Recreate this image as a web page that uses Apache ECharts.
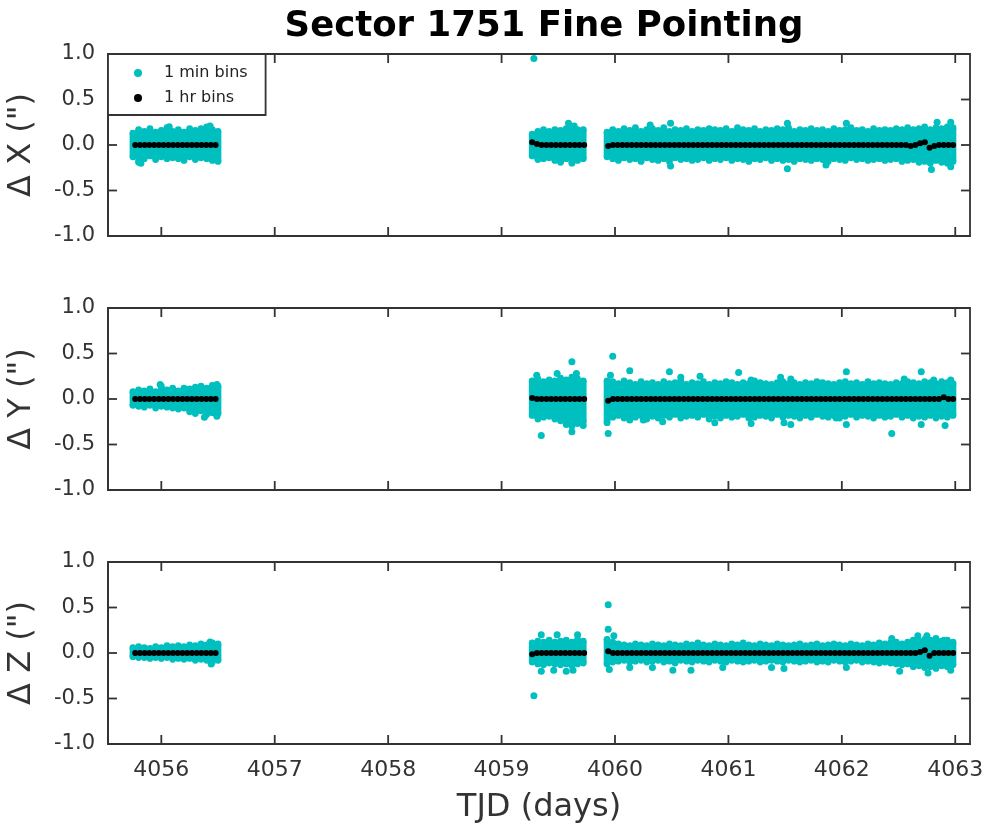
<!DOCTYPE html>
<html>
<head>
<meta charset="utf-8">
<script src="https://cdn.jsdelivr.net/npm/echarts@6/dist/echarts.min.js"></script>
<style>
html,body{margin:0;padding:0;background:#fff}
#main{width:985px;height:827px}
</style>
</head>
<body>
<div id="main"></div>
<script>
'use strict'
// tick labels
var xTicks = [4056, 4057, 4058, 4059, 4060, 4061, 4062, 4063];
var yTicks = [-1, -0.5, 0, 0.5, 1];
var panelNames = ['\u0394 X (")', '\u0394 Y (")', '\u0394 Z (")'];

// 1 min bins: dense cloud, read as upper/lower edge every 0.05 d per segment
var bandStep = 0.05;
var bandStart = [4055.75, 4059.27, 4059.93];

var dxHiA = [0.13,0.17,0.15,0.18,0.14,0.16,0.19,0.15,0.17,0.14,0.18,0.16,0.18,0.2,0.17,0.15];
var dxLoA = [-0.13,-0.19,-0.15,-0.12,-0.16,-0.13,-0.15,-0.14,-0.15,-0.17,-0.13,-0.16,-0.14,-0.15,-0.17,-0.18];
var dxHiB = [0.12,0.15,0.17,0.15,0.17,0.16,0.18,0.19,0.17,0.17];
var dxLoB = [-0.12,-0.16,-0.15,-0.14,-0.17,-0.19,-0.15,-0.2,-0.17,-0.15];
var dxHiC = [0.14,
    0.17,0.15,0.18,0.16,0.19,0.15,0.17,0.18,0.16,
    0.19,0.15,0.17,0.16,0.18,0.15,0.17,0.16,0.18,0.17,
    0.16,0.18,0.15,0.19,0.17,0.16,0.18,0.15,0.17,0.16,
    0.18,0.17,0.19,0.15,0.17,0.16,0.18,0.16,0.17,0.15,
    0.18,0.16,0.17,0.19,0.16,0.17,0.15,0.18,0.16,0.17,
    0.16,0.18,0.17,0.19,0.17,0.18,0.2,0.17,0.19,0.18,
    0.2,0.19];
var dxLoC = [-0.13,
    -0.15,-0.17,-0.14,-0.16,-0.15,-0.18,-0.14,-0.16,-0.17,
    -0.15,-0.18,-0.14,-0.16,-0.15,-0.17,-0.16,-0.14,-0.17,-0.15,
    -0.16,-0.14,-0.17,-0.15,-0.16,-0.18,-0.15,-0.16,-0.14,-0.17,
    -0.15,-0.17,-0.16,-0.18,-0.15,-0.16,-0.17,-0.15,-0.16,-0.18,
    -0.15,-0.16,-0.17,-0.14,-0.16,-0.15,-0.17,-0.16,-0.15,-0.17,
    -0.16,-0.15,-0.18,-0.17,-0.16,-0.19,-0.18,-0.2,-0.17,-0.19,
    -0.2,-0.18];

var dyHiA = [0.08,0.1,0.09,0.11,0.08,0.14,0.1,0.12,0.09,0.12,0.11,0.13,0.14,0.12,0.15,0.14];
var dyLoA = [-0.07,-0.08,-0.09,-0.07,-0.1,-0.08,-0.09,-0.1,-0.11,-0.1,-0.14,-0.16,-0.13,-0.17,-0.15,-0.16];
var dyHiB = [0.2,0.22,0.19,0.21,0.2,0.23,0.21,0.24,0.22,0.2];
var dyLoB = [-0.18,-0.22,-0.2,-0.19,-0.22,-0.24,-0.28,-0.3,-0.27,-0.25];
var dyHiC = [0.2,
    0.19,0.17,0.2,0.18,0.16,0.19,0.17,0.18,0.16,
    0.19,0.17,0.18,0.2,0.16,0.18,0.17,0.19,0.16,0.18,
    0.17,0.19,0.18,0.16,0.18,0.17,0.2,0.18,0.17,0.16,
    0.18,0.19,0.17,0.18,0.16,0.18,0.17,0.19,0.18,0.17,
    0.16,0.18,0.19,0.17,0.18,0.16,0.19,0.17,0.18,0.17,
    0.16,0.18,0.17,0.19,0.18,0.17,0.19,0.18,0.17,0.19,
    0.18,0.17];
var dyLoC = [-0.26,
    -0.2,-0.18,-0.21,-0.17,-0.2,-0.18,-0.22,-0.19,-0.21,
    -0.18,-0.2,-0.17,-0.21,-0.19,-0.18,-0.2,-0.17,-0.22,-0.19,
    -0.21,-0.18,-0.2,-0.19,-0.17,-0.21,-0.2,-0.18,-0.19,-0.21,
    -0.17,-0.2,-0.18,-0.19,-0.21,-0.18,-0.2,-0.17,-0.19,-0.2,
    -0.18,-0.21,-0.19,-0.17,-0.2,-0.18,-0.19,-0.21,-0.18,-0.2,
    -0.19,-0.17,-0.2,-0.18,-0.21,-0.19,-0.2,-0.18,-0.21,-0.19,
    -0.2,-0.18];

var dzHiA = [0.06,0.07,0.06,0.05,0.07,0.06,0.08,0.07,0.08,0.07,0.09,0.08,0.1,0.09,0.11,0.1];
var dzLoA = [-0.04,-0.05,-0.05,-0.06,-0.05,-0.06,-0.05,-0.07,-0.06,-0.07,-0.06,-0.08,-0.07,-0.08,-0.1,-0.08];
var dzHiB = [0.11,0.13,0.12,0.14,0.12,0.13,0.14,0.12,0.15,0.13];
var dzLoB = [-0.1,-0.12,-0.13,-0.11,-0.12,-0.13,-0.12,-0.14,-0.12,-0.11];
var dzHiC = [0.15,
    0.12,0.1,0.09,0.08,0.1,0.09,0.08,0.1,0.09,
    0.08,0.1,0.09,0.08,0.1,0.09,0.11,0.09,0.08,0.1,
    0.09,0.08,0.1,0.09,0.11,0.09,0.08,0.1,0.09,0.08,
    0.1,0.09,0.08,0.09,0.1,0.08,0.09,0.1,0.08,0.09,
    0.1,0.09,0.08,0.1,0.09,0.08,0.1,0.09,0.11,0.1,
    0.11,0.12,0.1,0.12,0.14,0.13,0.15,0.14,0.16,0.13,
    0.14,0.12];
var dzLoC = [-0.12,
    -0.1,-0.09,-0.08,-0.1,-0.09,-0.08,-0.1,-0.09,-0.08,
    -0.1,-0.09,-0.11,-0.08,-0.09,-0.1,-0.08,-0.09,-0.1,-0.08,
    -0.09,-0.1,-0.08,-0.09,-0.1,-0.09,-0.08,-0.1,-0.09,-0.08,
    -0.09,-0.1,-0.08,-0.09,-0.1,-0.09,-0.08,-0.1,-0.09,-0.1,
    -0.08,-0.09,-0.1,-0.09,-0.08,-0.1,-0.09,-0.1,-0.11,-0.1,
    -0.11,-0.12,-0.13,-0.12,-0.15,-0.14,-0.16,-0.15,-0.17,-0.14,
    -0.15,-0.13];

// 1 min bins sticking out of the cloud [TJD, value]
var dxOut = [[4059.285,0.95],[4059.59,0.24],[4059.64,0.21],[4060.31,0.22],[4060.49,0.24],[4060.49,-0.23],
    [4061.52,0.24],[4061.52,-0.26],[4061.86,-0.22],[4062.04,0.24],[4062.79,-0.27],[4062.84,0.25],
    [4062.96,0.25],[4062.96,-0.24],[4056.07,0.2],[4056.43,0.21],[4055.82,-0.2]];
var dyOut = [[4055.99,0.16],[4056.38,-0.2],[4056.49,-0.19],[4056.49,0.16],
    [4059.31,0.26],[4059.35,-0.4],[4059.49,0.28],[4059.62,0.41],[4059.62,-0.36],[4059.66,0.28],[4059.72,-0.29],
    [4059.94,-0.38],[4059.96,0.26],[4059.98,0.47],[4060.13,0.31],[4060.13,-0.23],[4060.25,-0.23],
    [4060.42,-0.25],[4060.48,0.3],[4060.58,0.24],[4060.75,0.25],[4060.88,-0.26],[4061.09,0.29],
    [4061.2,0.21],[4061.2,-0.27],[4061.46,0.24],[4061.49,-0.26],[4061.55,0.22],[4061.55,-0.28],
    [4061.95,-0.21],[4062.04,0.3],[4062.04,-0.28],[4062.44,-0.38],[4062.55,0.22],[4062.7,0.3],
    [4062.7,-0.28],[4062.81,0.21],[4062.91,-0.29],[4062.96,0.21]];
var dzOut = [[4056.43,0.12],[4056.44,-0.12],
    [4059.285,-0.47],[4059.35,0.2],[4059.49,0.2],[4059.67,0.2],[4059.35,-0.2],[4059.46,-0.19],
    [4059.57,-0.2],[4059.63,-0.19],
    [4059.94,0.53],[4059.94,0.26],[4059.99,0.19],[4059.95,-0.18],[4060.13,-0.16],[4060.33,-0.16],
    [4060.51,-0.19],[4060.67,-0.19],[4060.95,-0.16],[4061.38,-0.16],[4061.49,-0.17],[4062.04,-0.16],
    [4062.51,-0.2],[4062.76,-0.22],[4062.96,-0.19],[4062.44,0.16],[4062.67,0.19],[4062.75,0.19],[4062.9,0.14]];

// 1 hr bins, one value per hour from each segment start
var hrStart = [4055.77, 4059.27, 4059.94];
var dxHrA = [0,0,0,0,0,0,0,0,0,0,0,0,0,0,0,0,0,0];
var dxHrB = [0.03,0.01,0,0,0,0,0,0,0,0,0,0];
var dxHrC = [-0.01,
    0,0,0,0,0,0,0,0,0,0,
    0,0,0,0,0,0,0,0,0,0,
    0,0,0,0,0,0,0,0,0,0,
    0,0,0,0,0,0,0,0,0,0,
    0,0,0,0,0,0,0,0,0,0,
    0,0,0,0,0,0,0,0,0,0,
    0,0,0,
    -0.01,0,0.02,0.03,-0.03,-0.01,0,0,0,0];
var dyHrA = [0,0,0,0,0,0,0,0,0,0,0,0,0,0,0,0,0,0];
var dyHrB = [0.01,0,0,0,0,0,0,0,0,0,0,0];
var dyHrC = [-0.02,
    0,0,0,0,0,0,0,0,0,0,
    0,0,0,0,0,0,0,0,0,0,
    0,0,0,0,0,0,0,0,0,0,
    0,0,0,0,0,0,0,0,0,0,
    0,0,0,0,0,0,0,0,0,0,
    0,0,0,0,0,0,0,0,0,0,
    0,0,0,0,0,0,0,0,0,0,
    0.02,0,0];
var dzHrA = [0,0,0,0,0,0,0,0,0,0,0,0,0,0,0,0,0,0];
var dzHrB = [-0.015,0,0,0,0,0,0,0,0,0,0,0];
var dzHrC = [0.02,
    0,0,0,0,0,0,0,0,0,0,
    0,0,0,0,0,0,0,0,0,0,
    0,0,0,0,0,0,0,0,0,0,
    0,0,0,0,0,0,0,0,0,0,
    0,0,0,0,0,0,0,0,0,0,
    0,0,0,0,0,0,0,0,0,0,
    0,0,0,0,0,
    0.01,0.03,-0.03,0,0,0,0,0];

var CYAN = '#00bfbf';
var FONT = 'DejaVu Sans';
var AXIS_COLOR = '#333';
var X_MIN = 4055.53, X_MAX = 4063.13;
var TICK_LEN = 9;
var LINE_W = 1.8;

function bandData(hiList, loList) {
    var out = [];
    hiList.forEach(function (hi, s) {
        hi.forEach(function (v, i) {
            out.push([bandStart[s] + i * bandStep, v, loList[s][i]]);
        });
    });
    return out;
}
function hourData(list) {
    var out = [];
    list.forEach(function (vals, s) {
        vals.forEach(function (v, i) {
            out.push([hrStart[s] + i / 24, v]);
        });
    });
    return out;
}

var panels = [
    {band: bandData([dxHiA, dxHiB, dxHiC], [dxLoA, dxLoB, dxLoC]), out: dxOut, hr: hourData([dxHrA, dxHrB, dxHrC])},
    {band: bandData([dyHiA, dyHiB, dyHiC], [dyLoA, dyLoB, dyLoC]), out: dyOut, hr: hourData([dyHrA, dyHrB, dyHrC])},
    {band: bandData([dzHiA, dzHiB, dzHiC], [dzLoA, dzLoB, dzLoC]), out: dzOut, hr: hourData([dzHrA, dzHrB, dzHrC])}
];

function renderBand(params, api) {
    var t = api.value(0);
    var top = api.coord([t, api.value(1)]);
    var bot = api.coord([t, api.value(2)]);
    var w = api.size([bandStep, 0])[0] + 1;
    var r = 3.4;
    return {
        type: 'group',
        children: [
            {type: 'rect', shape: {x: top[0] - w / 2, y: top[1], width: w, height: bot[1] - top[1]}, style: {fill: CYAN}},
            {type: 'circle', shape: {cx: top[0], cy: top[1], r: r}, style: {fill: CYAN}},
            {type: 'circle', shape: {cx: bot[0], cy: bot[1], r: r}, style: {fill: CYAN}}
        ]
    };
}

// inward ticks on all four sides of each panel
function tickLine(x1, y1, x2, y2) {
    return {type: 'line', z2: 50, shape: {x1: x1, y1: y1, x2: x2, y2: y2},
        style: {stroke: AXIS_COLOR, lineWidth: LINE_W, fill: null}};
}
function renderXTick(params, api) {
    var cs = params.coordSys;
    var x = api.coord([api.value(0), 0])[0];
    var yb = cs.y + cs.height;
    return {type: 'group', children: [
        tickLine(x, yb, x, yb - TICK_LEN),
        tickLine(x, cs.y, x, cs.y + TICK_LEN)
    ]};
}
function renderYTick(params, api) {
    var cs = params.coordSys;
    var y = api.coord([X_MIN, api.value(1)])[1];
    var xr = cs.x + cs.width;
    return {type: 'group', children: [
        tickLine(cs.x, y, cs.x + TICK_LEN, y),
        tickLine(xr, y, xr - TICK_LEN, y)
    ]};
}

var tops = [54, 308, 562];
var grids = [], xAxes = [], yAxes = [], series = [];

panels.forEach(function (p, i) {
    grids.push({left: 108, right: 15, top: tops[i], height: 182, outerBoundsMode: 'none',
        show: true, borderColor: AXIS_COLOR, borderWidth: LINE_W, backgroundColor: 'transparent'});
    var ax = {
        type: 'value', gridIndex: i, min: X_MIN, max: X_MAX,
        axisLine: {show: true, onZero: false, lineStyle: {color: AXIS_COLOR, width: LINE_W}},
        axisTick: {show: false},
        axisLabel: {show: i === 2, customValues: xTicks, margin: 15,
            fontFamily: FONT, fontSize: 22, color: AXIS_COLOR,
            formatter: function (v) { return String(v); }},
        splitLine: {show: false}
    };
    if (i === 2) {
        ax.name = 'TJD (days)';
        ax.nameLocation = 'middle';
        ax.nameGap = 48;
        ax.nameTextStyle = {fontFamily: FONT, fontSize: 32, color: AXIS_COLOR};
    }
    xAxes.push(ax);
    yAxes.push({
        type: 'value', gridIndex: i, min: yTicks[0], max: yTicks[yTicks.length - 1], interval: 0.5,
        axisLine: {show: true, onZero: false, lineStyle: {color: AXIS_COLOR, width: LINE_W}},
        axisTick: {show: false},
        axisLabel: {show: true, margin: 13, fontFamily: FONT, fontSize: 21, color: AXIS_COLOR,
            formatter: function (v) { return v.toFixed(1); }},
        splitLine: {show: false},
        name: panelNames[i], nameLocation: 'middle', nameGap: 70, nameRotate: 90,
        nameTextStyle: {fontFamily: FONT, fontSize: 32, color: AXIS_COLOR}
    });
    series.push({
        type: 'custom', name: '1 min bins', xAxisIndex: i, yAxisIndex: i,
        renderItem: renderBand, encode: {x: 0, y: [1, 2]},
        itemStyle: {color: CYAN}, data: p.band, silent: true
    });
    series.push({
        type: 'scatter', name: '1 min bins', xAxisIndex: i, yAxisIndex: i,
        symbolSize: 7, itemStyle: {color: CYAN, opacity: 1}, data: p.out, silent: true
    });
    series.push({
        type: 'scatter', name: '1 hr bins', xAxisIndex: i, yAxisIndex: i,
        symbolSize: 6, itemStyle: {color: '#000', opacity: 1}, data: p.hr, silent: true
    });
    series.push({
        type: 'custom', xAxisIndex: i, yAxisIndex: i, renderItem: renderXTick, silent: true, z: 5,
        encode: {x: 0, y: 1}, data: xTicks.map(function (v) { return [v, 0]; })
    });
    series.push({
        type: 'custom', xAxisIndex: i, yAxisIndex: i, renderItem: renderYTick, silent: true, z: 5,
        encode: {x: 0, y: 1}, data: yTicks.map(function (v) { return [X_MIN, v]; })
    });
});

var myChart = echarts.init(document.getElementById('main'));
myChart.setOption({
    animation: false,
    backgroundColor: '#fff',
    title: {
        text: 'Sector 1751 Fine Pointing', left: 539, top: 4, textAlign: 'center',
        textStyle: {fontFamily: FONT, fontWeight: 'bold', fontSize: 35.5, color: '#000'}
    },
    legend: {
        data: ['1 min bins', '1 hr bins'], left: 108, top: 54, orient: 'vertical',
        icon: 'circle', itemWidth: 8, itemHeight: 8, itemGap: 9,
        padding: [11, 18, 9, 26], borderColor: AXIS_COLOR, borderWidth: LINE_W, backgroundColor: '#fff',
        selectedMode: false, z: 10,
        textStyle: {fontFamily: FONT, fontSize: 16, color: '#222', padding: [0, 0, 0, 17]}
    },
    grid: grids,
    xAxis: xAxes,
    yAxis: yAxes,
    series: series
});
</script>
</body>
</html>
